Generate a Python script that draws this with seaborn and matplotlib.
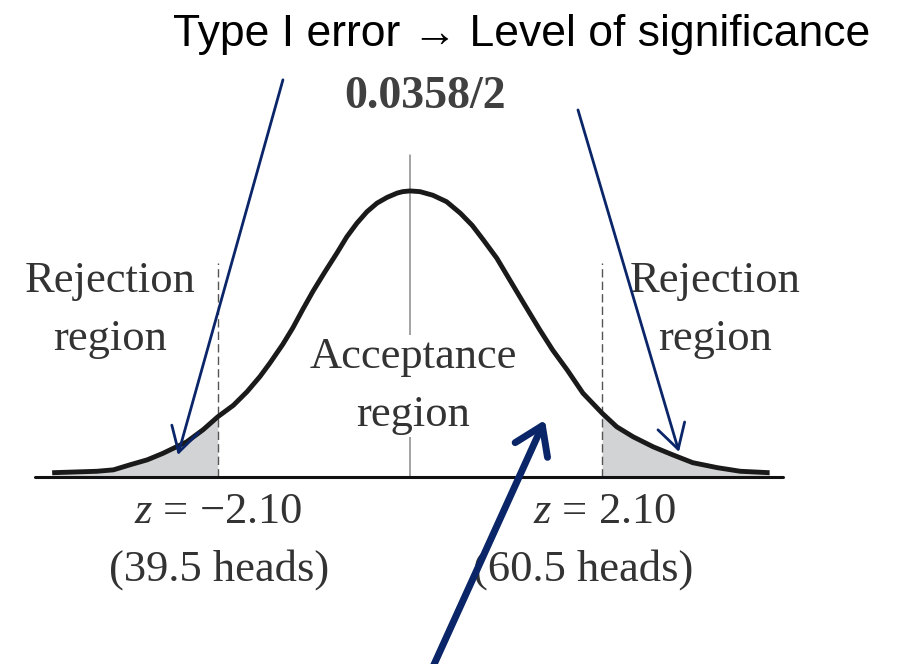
import matplotlib
matplotlib.use("Agg")
import matplotlib.pyplot as plt
import seaborn as sns
import pandas as pd

# Curve (z position, height)
curve_z = [-3.91, -3.42, -3.24, -3.06, -2.87, -2.70, -2.44, -2.26, -2.10, -1.93,
           -1.78, -1.64, -1.53, -1.39, -1.28, -1.17, -1.06, -0.93, -0.80, -0.69,
           -0.58, -0.47, -0.36, -0.25, -0.14, -0.08, 0.00, 0.11, 0.25, 0.40,
           0.55, 0.68, 0.80, 0.95, 1.09, 1.24, 1.42, 1.56, 1.72, 1.89,
           2.10, 2.26, 2.44, 2.66, 2.87, 3.09, 3.36, 3.61, 3.93]
curve_h = [0.006, 0.008, 0.010, 0.017, 0.024, 0.033, 0.049, 0.066, 0.084, 0.100,
           0.119, 0.140, 0.159, 0.185, 0.208, 0.234, 0.259, 0.286, 0.312, 0.335,
           0.354, 0.370, 0.382, 0.390, 0.396, 0.398, 0.399, 0.398, 0.393, 0.384,
           0.368, 0.351, 0.331, 0.305, 0.275, 0.243, 0.205, 0.177, 0.149, 0.117,
           0.089, 0.070, 0.056, 0.042, 0.031, 0.020, 0.013, 0.008, 0.006]

z_crit = 2.10
heads = [39.5, 60.5]
alpha_text = "0.0358/2"
title = "Type I error \u2192 Level of significance"

navy = "#0a2669"
shade = "#d1d3d4"
text_grey = "#333333"

sns.set_theme(style="white")
plt.rcParams["font.family"] = ["Liberation Serif", "DejaVu Serif"]
plt.rcParams["mathtext.fontset"] = "custom"
plt.rcParams["mathtext.it"] = "Liberation Serif:italic"
plt.rcParams["mathtext.rm"] = "Liberation Serif"

df = pd.DataFrame({"z": curve_z, "h": curve_h})

fig = plt.figure(figsize=(9.01, 6.64), dpi=100)
ax = fig.add_axes([0, 0, 1, 1])

# shaded rejection tails
left = df[df.z <= -z_crit]
right = df[df.z >= z_crit]
ax.fill_between(left.z, 0, left.h, color=shade, lw=0, zorder=1)
ax.fill_between(right.z, 0, right.h, color=shade, lw=0, zorder=1)

# baseline, centre line and critical value lines
ax.plot([-4.10, 4.08], [0, 0], color="#111111", lw=2.2, zorder=3)
ax.plot([0, 0], [0, 0.449], color="#8a8a8a", lw=1.1, zorder=1)
for zc in (-z_crit, z_crit):
    ax.plot([zc, zc], [0, 0.298], color="#555555", lw=1.0, ls=(0, (6, 3)), zorder=2)

sns.lineplot(data=df, x="z", y="h", color="#1a1a1a", lw=3.5, ax=ax, zorder=4,
             solid_joinstyle="round", solid_capstyle="butt")
ax.set_xlim(-4.48, 5.366)
ax.set_ylim(-0.2608, 0.6653)
ax.axis("off")

# labels
serif_kw = dict(ha="center", va="center", color=text_grey, fontsize=32, linespacing=1.6)
ax.text(-3.28, 0.233, "Rejection\nregion", **serif_kw, zorder=5)
ax.text(3.33, 0.233, "Rejection\nregion", **serif_kw, zorder=5)
ax.text(0.033, 0.127, "Acceptance\nregion", **serif_kw, zorder=5,
        bbox=dict(facecolor="white", edgecolor="none", pad=1))
ax.text(-2.10, -0.0488, "$z$ = \u22122.10", **serif_kw)
ax.text(-2.08, -0.1297, "(%.1f heads)" % heads[0], **serif_kw)
ax.text(2.13, -0.0488, "$z$ = %.2f" % z_crit, **serif_kw)
ax.text(1.89, -0.1297, "(%.1f heads)" % heads[1], **serif_kw)

ax.text(1.224, 0.6165, title, ha="center", va="center", color="black",
        fontsize=32, family=["Liberation Sans", "DejaVu Sans"])
ax.text(0.164, 0.530, alpha_text, ha="center", va="center", color="#404040",
        fontsize=33, fontweight="bold")

# arrows
thin = dict(arrowstyle="->,head_length=0.7,head_width=0.4", lw=2.0, color=navy,
            shrinkA=0, shrinkB=0, mutation_scale=25)
ax.annotate("", xy=(-2.536, 0.0307), xytext=(-1.388, 0.554), arrowprops=thin, zorder=6)
ax.annotate("", xy=(2.94, 0.035), xytext=(1.836, 0.512), arrowprops=thin, zorder=6)
thick = dict(arrowstyle="->,head_length=0.6,head_width=0.4", lw=5.0, color=navy,
             shrinkA=0, shrinkB=0, mutation_scale=32)
ax.annotate("", xy=(1.475, 0.0795), xytext=(0.197, -0.28), arrowprops=thick, zorder=6)

fig.savefig("out.png", dpi=100)
